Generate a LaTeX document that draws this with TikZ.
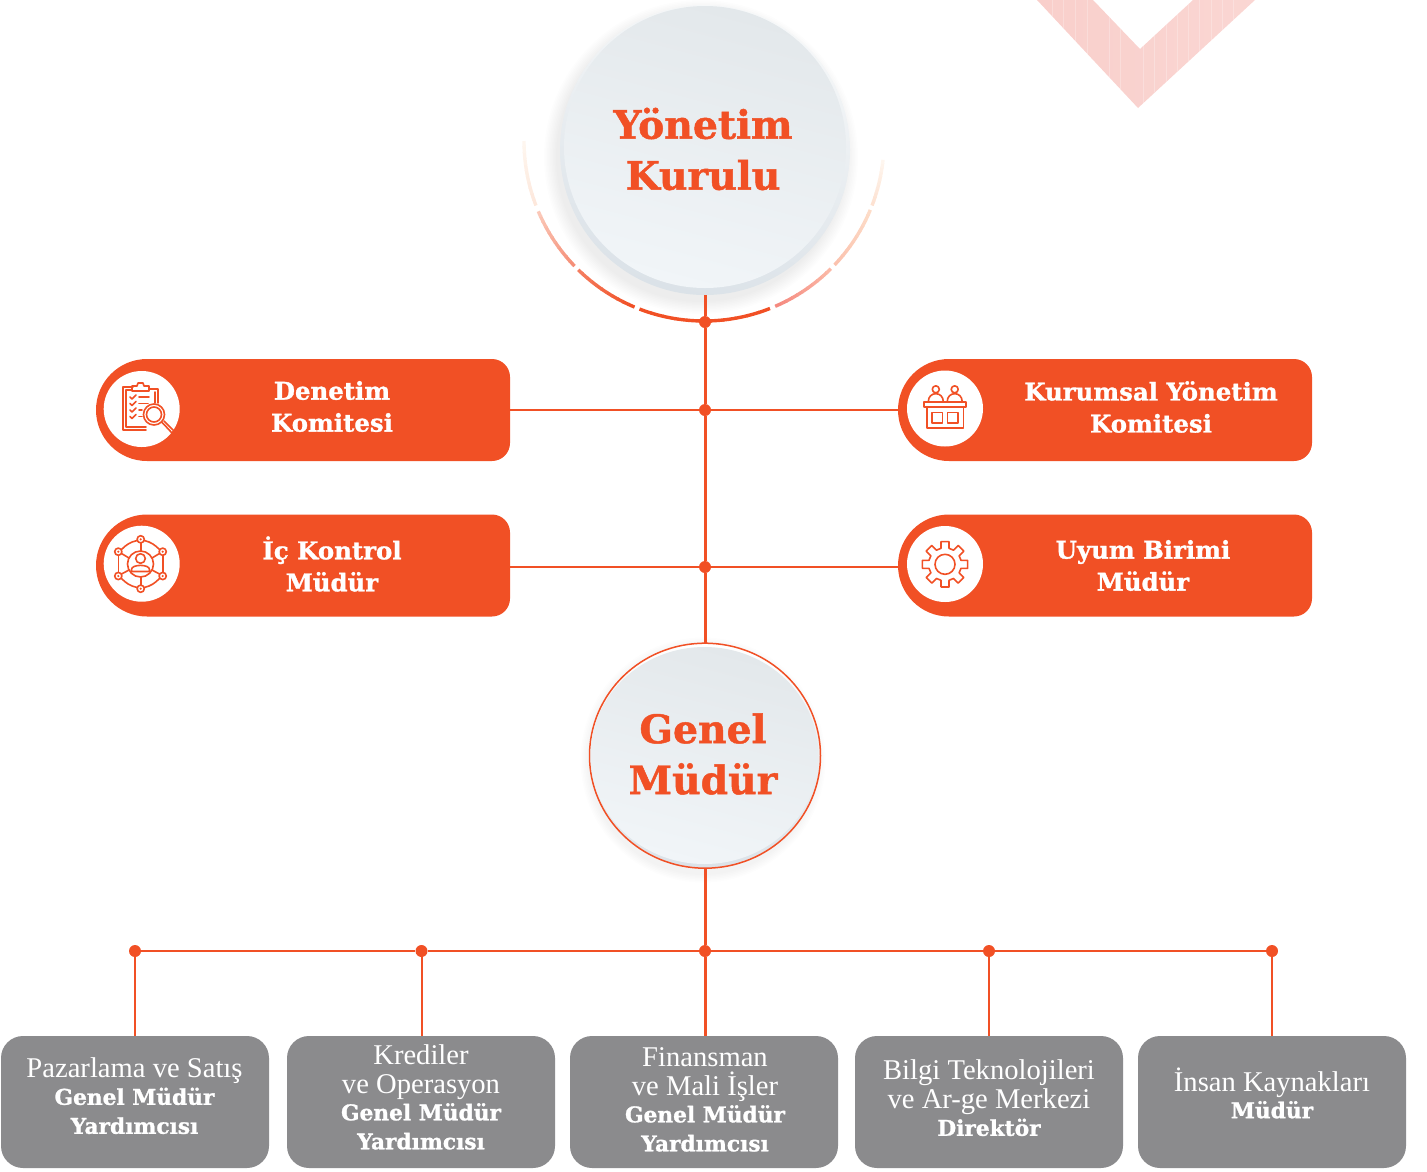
\documentclass[tikz,border=0pt]{standalone}
\usetikzlibrary{shapes.geometric}
\usepackage{fontspec}
\setmainfont{DejaVu Serif}
\newfontfamily\slabb{DejaVu Serif}[BoldFeatures={FakeBold=1.2}]
\newfontfamily\slabl{Liberation Serif}
\definecolor{org}{HTML}{F15025}
\definecolor{gry}{HTML}{8B8B8D}
\definecolor{chev}{HTML}{F9CFCB}
\definecolor{aa}{HTML}{F58A80}
\definecolor{ab}{HTML}{FBB8A6}
\definecolor{ac}{HTML}{FBC2AE}
\definecolor{ad}{HTML}{FDDCC8}
\definecolor{ae}{HTML}{FDE2D2}
\definecolor{af}{HTML}{FEF6EF}
\definecolor{ag}{HTML}{F47D60}
\definecolor{ah}{HTML}{F58F78}
\definecolor{ai}{HTML}{FBC8B8}
\definecolor{aj}{HTML}{FDE8DC}
\definecolor{rimtop}{HTML}{F6F8F9}
\definecolor{rimbot}{HTML}{DBE2E8}
\definecolor{facetop}{HTML}{E3E8EB}
\definecolor{facebot}{HTML}{F1F5F8}
\tikzset{
  wire/.style={draw=org,line width=2pt},
  trunk/.style={draw=org,line width=3pt},
  joint/.style={circle,fill=org,inner sep=0pt,minimum size=12pt},
  pillanchor/.style={rectangle,inner sep=0pt,outer sep=0pt,minimum width=414pt,minimum height=102pt},
  pilltext/.style={align=center,text=white,font=\slabb\bfseries\fontsize{24.4}{32}\selectfont,inner sep=0pt},
  graybox/.style={rectangle,rounded corners=22pt,fill=gry,inner sep=0pt,outer sep=0pt,minimum width=268pt,minimum height=132pt},
  boxtext/.style={align=center,text=white,font=\slabl\fontsize{28.6}{29}\selectfont,inner sep=0pt},
  ball/.style={circle,fill=white,inner sep=0pt,minimum size=76pt},
  icon/.style={draw=org,line width=1.6pt,line join=round,line cap=round},
  bigtext/.style={align=center,text=org,font=\slabb\bfseries\fontsize{39.3}{51}\selectfont,inner sep=0pt},
}
\newcommand{\bld}[1]{{\slabb\bfseries\fontsize{21.7}{29}\selectfont #1}}
\newcommand{\pillshape}[1]{%
  \fill[org] ([xshift=51pt]#1.north west) -- ([xshift=-18pt]#1.north east)
    arc[start angle=90,end angle=0,radius=18pt] -- ([yshift=18pt]#1.south east)
    arc[start angle=0,end angle=-90,radius=18pt] -- ([xshift=51pt]#1.south west)
    arc[start angle=270,end angle=90,radius=51pt] -- cycle;}
\begin{document}
\begin{tikzpicture}[x=1pt,y=-1pt]
\useasboundingbox (0,0) rectangle (1427,1171);
% chevron
\begin{scope}
  \clip (1037,0) -- (1138,108) -- (1255,0) -- (1193,0) -- (1140,49) -- (1093,0) -- cycle;
  \shade[left color=chev,right color=chev!85!white] (1037,0) rectangle (1255,108);
  \foreach \x in {1052,1063,1075,1087,1109,1120,1143,1154,1166,1177,1188,1199,1211,1222,1233}
    \draw[white,opacity=.25,line width=.7pt] (\x,0) -- (\x,108);
\end{scope}
% arc of dashes
\def\arcseg#1#2#3#4{%
  \foreach \i in {0,...,10}{%
    \pgfmathsetmacro\pa{#1+(#2-(#1))*\i/11}%
    \pgfmathsetmacro\pb{#1+(#2-(#1))*(\i+1)/11+(\i<10?0.3*((#2>#1)?1:-1):0)}%
    \pgfmathsetmacro\pc{100*\i/10}%
    \colorlet{segc}{#4!\pc!#3}%
    \draw[segc,line width=3.4pt] ({704+180*cos(\pa)},{141+180*sin(\pa)}) arc[start angle=-\pa,end angle=-\pb,radius=180pt];
  }}
\arcseg{111}{68.5}{org}{org}
\arcseg{66.7}{45.2}{aa}{ab}
\arcseg{43.5}{22.5}{ac}{ad}
\arcseg{21}{6}{ae}{af}
\arcseg{112.7}{134.3}{org}{ag}
\arcseg{136}{157}{ah}{ai}
\arcseg{159}{180}{aj}{af}
% shadows
\foreach \r in {0,1.5,...,12}
  \fill[black,opacity=.009] (701,157) circle[radius=145pt+\r pt];
\foreach \r in {0,1.5,...,7.5}
  \fill[black,opacity=.009] (703,760) circle[radius=115pt+\r pt];
% circles
\node (yk) [circle,inner sep=0pt,outer sep=0pt,minimum size=290pt,top color=rimtop,bottom color=rimbot,shading angle=-15] at (705,150) {};
\shade[top color=facetop,bottom color=facebot,shading angle=-15] (705,147) circle[radius=141pt];
\node (gm) [ellipse,inner sep=0pt,outer sep=0pt,minimum width=231pt,minimum height=225pt,draw=org,line width=1.5pt,top color=white,bottom color=rimbot] at (705,755.7) {};
\shade[top color=facetop,bottom color=facebot,shading angle=-15] (704.5,755.5) ellipse[x radius=114pt,y radius=108.5pt];
\node (yktext) [bigtext] at (703,149) {Yönetim\\Kurulu};
\node (gmtext) [bigtext] at (703,754) {Genel\\Müdür};
% pill anchors
\node (p1) [pillanchor] at (303,410) {};
\node (p2) [pillanchor] at (1105,410) {};
\node (p3) [pillanchor] at (303,565.5) {};
\node (p4) [pillanchor] at (1105,565.5) {};
% joints
\node (j0) [joint] at (705,322) {};
\node (j1) [joint] at (705,410) {};
\node (j2) [joint] at (705,567) {};
\node (j3) [joint] at (705,951) {};
\node (jb1) [joint] at (135,951) {};
\node (jb2) [joint] at (421.5,951) {};
\node (jb4) [joint] at (989,951) {};
\node (jb5) [joint] at (1272,951) {};
% connectors
\draw[trunk] (yk.south) -- (j0) -- (j1) -- (j2) -- (gm.north);
\draw[wire] (p1.east) -- (j1) -- (p2.west);
\draw[wire] (p3.east |- j2) -- (j2) -- (p4.west |- j2);
\draw[trunk] (gm.south) -- (j3);
\draw[wire] (jb1) -- (jb2) -- (j3) -- (jb4) -- (jb5);
% pills
\pillshape{p1}\pillshape{p2}\pillshape{p3}\pillshape{p4}
\node (c1) [ball] at (141.7,409) {};
\node (c2) [ball] at (945,408.5) {};
\node (c3) [ball] at (141.7,563.7) {};
\node (c4) [ball] at (945,564) {};
\node (t1) [pilltext] at (332,406.5) {Denetim\\Komitesi};
\node (t2) [pilltext] at (1151,407) {Kurumsal Yönetim\\Komitesi};
\node (t3) [pilltext] at (332,564) {İç Kontrol\\Müdür};
\node (t4) [pilltext] at (1143,565.5) {Uyum Birimi\\Müdür};
% gray boxes
\node (b1) [graybox] at (135,1102) {};
\node (b2) [graybox] at (421,1102) {};
\node (b3) [graybox] at (704,1102) {};
\node (b4) [graybox] at (989,1102) {};
\node (b5) [graybox] at (1272,1102) {};
\draw[wire] (jb1) -- (jb1 |- b1.north);
\draw[wire] (jb2) -- (jb2 |- b2.north);
\draw[trunk] (j3) -- (j3 |- b3.north);
\draw[wire] (jb4) -- (jb4 |- b4.north);
\draw[wire] (jb5) -- (jb5 |- b5.north);
\node (bt1) [boxtext] at (134.5,1096) {Pazarlama ve Satış\\[-2pt]\bld{Genel Müdür}\\\bld{Yardımcısı}};
\node (bt2) [boxtext] at (421,1097) {Krediler\\ve Operasyon\\[-2pt]\bld{Genel Müdür}\\\bld{Yardımcısı}};
\node (bt3) [boxtext] at (705,1099.5) {Finansman\\ve Mali İşler\\[-2pt]\bld{Genel Müdür}\\\bld{Yardımcısı}};
\node (bt4) [boxtext] at (989,1098) {Bilgi Teknolojileri\\ve Ar-ge Merkezi\\[-2pt]\bld{Direktör}};
\node (bt5) [boxtext] at (1272,1093) {İnsan Kaynakları\\[-2pt]\bld{Müdür}};
% icon: clipboard and magnifier
\begin{scope}[icon]
  \draw (150,389) -- (158,389) -- (158,403) (146,430) -- (123,430) -- (123,387) -- (133,387);
  \draw (126,427) -- (126,390) -- (132,390) (155,392) -- (155,403) (146,427) -- (126,427);
  \draw (132,390) -- (132,386) -- (137,386) -- (138,383) -- (143,383) -- (144,386) -- (149,386) -- (149,391) -- (132,391);
  \foreach \yy in {397,403.5,410,416.5}{
    \draw (130,\yy) -- (132,\yy+2) -- (136,\yy-2);
  }
  \draw (139,397) -- (149,397) (139,403.5) -- (148,403.5) (139,410) -- (142,410) (139,416.5) -- (142,416.5);
  \draw (154,414.5) circle[radius=10.5pt] (154,414.5) circle[radius=7.5pt];
  \draw (161.5,422) -- (165,425.5) -- (172,433) -- (174,431) -- (167,424) -- (164,421);
\end{scope}
% icon: network
\begin{scope}[icon]
  \draw (140.5,564) circle[radius=13pt];
  \draw (140.5,558.5) circle[radius=4.8pt];
  \draw (131.5,569.5) .. controls (131.5,564) and (149.5,564) .. (149.5,569.5) -- (149.5,571.5) -- (131.5,571.5) -- cycle;
  \foreach \x/\yy in {140.7/539.3,118.3/551.7,162.7/551.7,118.3/576,162.7/576,140.7/588.7}{
    \draw (\x,\yy) circle[radius=3.6pt];
    \fill[org] (\x,\yy) circle[radius=1.2pt];
  }
  \draw (140.7,543) -- (140.7,551) (140.7,577) -- (140.7,585);
  \draw (121.5,553.5) -- (129,558) (159.5,553.5) -- (152,558) (121.5,574) -- (129,570) (159.5,574) -- (152,570);
  \draw (137.2,540.5) .. controls (130,542) and (126,545) .. (121.5,549.5);
  \draw (144.2,540.5) .. controls (151,542) and (155,545) .. (159.5,549.5);
  \draw (137.2,587.5) .. controls (130,586) and (126,583) .. (121.5,578.5);
  \draw (144.2,587.5) .. controls (151,586) and (155,583) .. (159.5,578.5);
  \draw (118.3,555.3) -- (118.3,572.4) (162.7,555.3) -- (162.7,572.4);
\end{scope}
% icon: desk
\begin{scope}[icon]
  \draw (924,401.7) rectangle (966,406.7);
  \draw (926.7,406.7) -- (926.7,427.7) -- (963.3,427.7) -- (963.3,406.7);
  \draw (931.7,412.3) rectangle (942.3,422.7) (947.3,412.3) rectangle (958,422.7);
  \draw (935.8,389.3) circle[radius=3.5pt] (954.7,389.3) circle[radius=3.5pt];
  \draw (928.3,401.7) .. controls (928.3,391) and (943.3,391) .. (943.3,401.7);
  \draw (947.2,401.7) .. controls (947.2,391) and (962.2,391) .. (962.2,401.7);
\end{scope}
% icon: gear
\begin{scope}[icon,shift={(945,564.3)}]
  \draw (0,0) circle[radius=10pt];
  \draw (-14:16.5)
    \foreach \a in {0,45,...,315}{
      -- (\a-14:16.5) -- (\a-10:23) -- (\a+10:23) -- (\a+14:16.5)
    } -- cycle;
\end{scope}
\end{tikzpicture}
\end{document}
